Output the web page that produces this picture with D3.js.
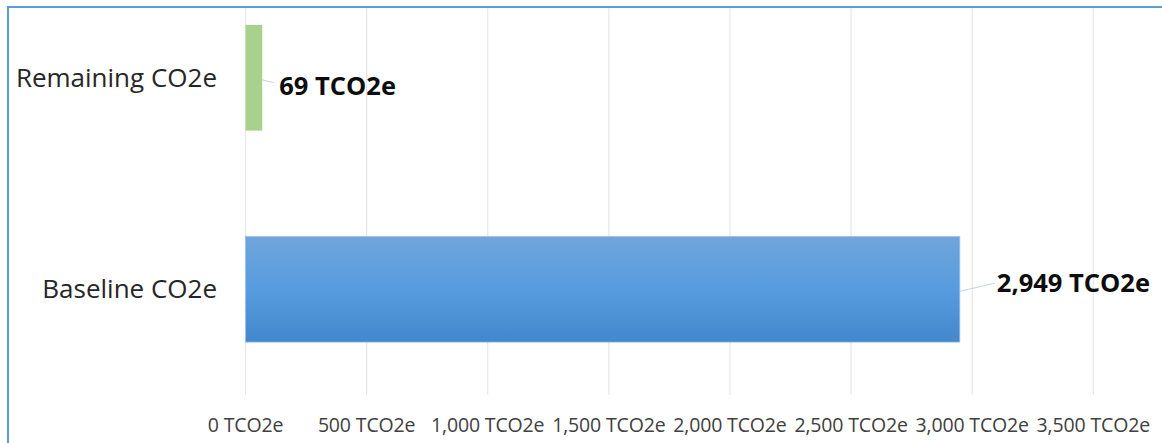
<!DOCTYPE html>
<html>
<head>
<meta charset="utf-8">
<script src="https://cdn.jsdelivr.net/npm/d3@7"></script>
<style>
  body { margin: 0; background: #fff; }
  svg { display: block; font-family: "Open Sans", "Noto Sans", sans-serif; }
</style>
</head>
<body>
<script>
var categories = ['Remaining CO2e', 'Baseline CO2e'];
var values = [69, 2949];
var tickValues = [0, 500, 1000, 1500, 2000, 2500, 3000, 3500];

var width = 1162,
    height = 443;

var svg = d3.select('body')
  .append('svg')
    .attr('width', width)
    .attr('height', height);

var defs = svg.append('defs');
var grad = defs.append('linearGradient')
  .attr('id', 'blueGrad')
  .attr('x1', 0).attr('y1', 0).attr('x2', 0).attr('y2', 1);
grad.append('stop').attr('offset', '0%').attr('stop-color', '#70a5dc');
grad.append('stop').attr('offset', '50%').attr('stop-color', '#569cde');
grad.append('stop').attr('offset', '100%').attr('stop-color', '#4487cc');

// chart frame (runs off right and bottom edge)
svg.append('rect')
  .attr('x', 8)
  .attr('y', 7)
  .attr('width', width + 20)
  .attr('height', height + 20)
  .attr('fill', 'none')
  .attr('stroke', '#5b9bd5')
  .attr('stroke-width', 2);

var x = d3.scaleLinear()
  .domain([0, 3500])
  .range([245.5, 1093.3]);

var y = d3.scaleBand()
  .domain(categories)
  .range([-28, 395])
  .paddingInner(0.5)
  .paddingOuter(0.25);

var fmt = d3.format(',');

// gridlines
svg.append('g')
  .selectAll('line')
  .data(tickValues)
  .enter()
  .append('line')
    .attr('x1', function(d) { return x(d); })
    .attr('x2', function(d) { return x(d); })
    .attr('y1', 8)
    .attr('y2', 395)
    .attr('stroke', '#e6e6ee')
    .attr('stroke-width', 1.2);

// x tick labels
svg.append('g')
  .selectAll('text')
  .data(tickValues)
  .enter()
  .append('text')
    .attr('x', function(d) { return x(d); })
    .attr('y', 425)
    .attr('dy', '0.35em')
    .attr('text-anchor', 'middle')
    .attr('font-size', 19.5)
    .attr('letter-spacing', -0.15)
    .attr('fill', '#404040')
    .text(function(d) { return fmt(d) + ' TCO2e'; });

// category labels
svg.append('g')
  .selectAll('text')
  .data(categories)
  .enter()
  .append('text')
    .attr('x', 217)
    .attr('y', function(d) { return y(d) + y.bandwidth() / 2; })
    .attr('dy', '0.35em')
    .attr('text-anchor', 'end')
    .attr('font-size', 26)
    .attr('fill', '#262626')
    .text(function(d) { return d; });

var data = categories.map(function(c, i) { return {cat: c, value: values[i]}; });

// bars
svg.append('g')
  .selectAll('rect')
  .data(data)
  .enter()
  .append('rect')
    .attr('x', x(0))
    .attr('y', function(d) { return y(d.cat); })
    .attr('width', function(d) { return x(d.value) - x(0); })
    .attr('height', y.bandwidth())
    .attr('fill', function(d, i) { return i === 0 ? '#a9d18e' : 'url(#blueGrad)'; })
    .attr('stroke', function(d, i) { return i === 0 ? 'none' : '#9fc3ea'; })
    .attr('stroke-width', 0.8);

// leader lines + data labels
var labelOffsets = [{dx: 12, dy: 3, tx: 17, ty: 8}, {dx: 35, dy: -8, tx: 37, ty: -6}];

svg.append('g')
  .selectAll('path')
  .data(data)
  .enter()
  .append('path')
    .attr('d', function(d, i) {
      var cx = x(d.value), cy = y(d.cat) + y.bandwidth() / 2 + 2;
      var o = labelOffsets[i];
      return 'M ' + cx + ' ' + cy + ' L ' + (cx + o.dx) + ' ' + (cy + o.dy);
    })
    .attr('fill', 'none')
    .attr('stroke', '#c8d2dc')
    .attr('stroke-width', 1);

svg.append('g')
  .selectAll('text')
  .data(data)
  .enter()
  .append('text')
    .attr('x', function(d, i) { return x(d.value) + labelOffsets[i].tx; })
    .attr('y', function(d, i) { return y(d.cat) + y.bandwidth() / 2 + labelOffsets[i].ty; })
    .attr('dy', '0.35em')
    .attr('font-size', 25.5)
    .attr('font-weight', 'bold')
    .attr('fill', '#0d0d0d')
    .text(function(d) { return fmt(d.value) + ' TCO2e'; });
</script>
</body>
</html>
